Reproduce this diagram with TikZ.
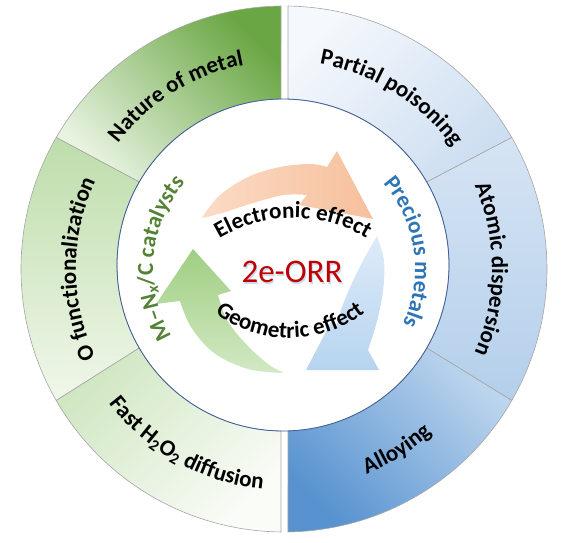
\documentclass[tikz,border=0pt]{standalone}
\usepackage{fontspec}
\setmainfont{Carlito}
\usetikzlibrary{decorations.text,calc}
\definecolor{segline}{HTML}{A6A6A6}
\definecolor{innerblue}{HTML}{3F5E9C}
\definecolor{labgreen}{HTML}{548235}
\definecolor{labblue}{HTML}{2E75B6}
\definecolor{orrred}{HTML}{C00000}
\definecolor{orrglow}{HTML}{C9DCF0}
\newcommand\ringfs{\fontsize{23}{27}\selectfont\bfseries}
\newcommand\labfs{\fontsize{23}{27}\selectfont\bfseries}
\newcommand\efffs{\fontsize{23}{27}\selectfont\bfseries}
\tikzset{
  seg/.style={draw=segline, line width=0.6pt},
  arrowshape/.style={draw=none},
  orrtext/.style={anchor=base, font=\fontsize{33}{36}\selectfont, inner sep=0pt},
}
\begin{document}
\begin{tikzpicture}[x=1pt,y=1pt]
\useasboundingbox (-284,-274) rectangle (286,269);
\coordinate (oc) at (0,0);
\coordinate (ic) at (-1,4);

% ---- green half ----
\path[seg, top color={rgb,255:red,106;green,167;blue,68}, bottom color={rgb,255:red,232;green,243;blue,225}, shading angle=-45]
  (150:263pt) arc[start angle=150, end angle=90.65, radius=263pt]
  -- ($(ic)+(90.7:166pt)$) arc[start angle=90.7, end angle=150, radius=166pt] -- cycle;
\path[seg, top color={rgb,255:red,190;green,221;blue,170}, bottom color={rgb,255:red,240;green,247;blue,235}]
  (210:263pt) arc[start angle=210, end angle=150, radius=263pt]
  -- ($(ic)+(150:166pt)$) arc[start angle=150, end angle=210, radius=166pt] -- cycle;
\path[seg, top color={rgb,255:red,208;green,231;blue,194}, bottom color={rgb,255:red,250;green,252;blue,248}, shading angle=45]
  (269.35:263pt) arc[start angle=269.35, end angle=210, radius=263pt]
  -- ($(ic)+(210:166pt)$) arc[start angle=210, end angle=269.3, radius=166pt] -- cycle;

% ---- blue half ----
\path[seg, top color={rgb,255:red,245;green,248;blue,252}, bottom color={rgb,255:red,205;green,222;blue,241}, shading angle=45]
  (89.13:263pt) arc[start angle=89.13, end angle=30, radius=263pt]
  -- ($(ic)+(30:166pt)$) arc[start angle=30, end angle=88.27, radius=166pt] -- cycle;
\path[seg, top color={rgb,255:red,214;green,228;blue,244}, bottom color={rgb,255:red,180;green,207;blue,235}]
  (30:263pt) arc[start angle=30, end angle=-30, radius=263pt]
  -- ($(ic)+(-30:166pt)$) arc[start angle=-30, end angle=30, radius=166pt] -- cycle;
\path[seg, top color={rgb,255:red,190;green,214;blue,238}, bottom color={rgb,255:red,88;green,147;blue,208}, shading angle=-45]
  (-30:263pt) arc[start angle=-30, end angle=-89.13, radius=263pt]
  -- ($(ic)+(-88.27:166pt)$) arc[start angle=-88.27, end angle=-30, radius=166pt] -- cycle;

\draw[innerblue, line width=0.8pt] (ic) circle[radius=166pt];

% ---- cycle arrows ----
% orange (top)
\coordinate (oT) at (-82,51);
\coordinate (oB1) at (53,118);
\coordinate (oTip) at (89,50);
\coordinate (oB2) at (15,64);
\path[arrowshape, left color={rgb,255:red,251;green,219;blue,197}, right color={rgb,255:red,246;green,192;blue,156}]
  (oT) -- plot[smooth, tension=0.6] coordinates {(oT) (-65,73) (-36,92) (-4,102) (26,105) (43,102)}
  -- (oB1) -- (oTip) -- (oB2)
  -- plot[smooth, tension=0.6] coordinates {(23,74) (0,74) (-31,66) (-62,56) (oT)} -- cycle;
% blue (right)
\coordinate (bT) at (93,33);
\coordinate (bB1) at (95,-101);
\coordinate (bTip) at (22,-101);
\coordinate (bB2) at (47,-53);
\path[arrowshape, top color={rgb,255:red,222;green,235;blue,248}, bottom color={rgb,255:red,182;green,212;blue,239}]
  (bT) -- plot[smooth, tension=0.6] coordinates {(bT) (100,8) (99,-22) (93,-52) (84,-81)}
  -- (bB1) -- (bTip) -- (bB2)
  -- plot[smooth, tension=0.6] coordinates {(53,-56) (58,-38) (68,-14) (80,10) (bT)} -- cycle;
% green (left)
\coordinate (gT) at (0,-104);
\coordinate (gB1) at (-128,-35);
\coordinate (gTip) at (-91,20);
\coordinate (gB2) at (-53,-22);
\path[arrowshape, top color={rgb,255:red,160;green,206;blue,130}, bottom color={rgb,255:red,210;green,233;blue,196}]
  (gT) -- plot[smooth, tension=0.6] coordinates {(gT) (-36,-100) (-70,-84) (-93,-58) (-104,-32)}
  -- (gB1) -- (gTip) -- (gB2)
  -- plot[smooth, tension=0.6] coordinates {(-66,-26) (-57,-51) (-38,-75) (-16,-95) (gT)} -- cycle;

% ---- ring texts ----
\path[decorate, decoration={text along path, text align=center, text={|\ringfs|Nature of metal}}]
  (152:208pt) arc[start angle=152, end angle=92, radius=208pt];
\path[decorate, decoration={text along path, text align=center, text={|\ringfs|Partial poisoning}}]
  (88:208pt) arc[start angle=88, end angle=28, radius=208pt];
\path[decorate, decoration={text along path, text align=center, text={|\ringfs|O functionalization}}]
  (212:208pt) arc[start angle=212, end angle=148, radius=208pt];
\path[decorate, decoration={text along path, text align=center, text={|\ringfs|Atomic dispersion}}]
  (32:208pt) arc[start angle=32, end angle=-32, radius=208pt];
\path[decorate, decoration={text along path, text align=center, text={|\ringfs|Alloying}}]
  (-88:221pt) arc[start angle=-88, end angle=-28, radius=221pt];
\path[decorate, decoration={text along path, text align=center, text={|\ringfs|Fast H{\textsubscript{2}}O{\textsubscript{2}} diffusion}}]
  (209:221pt) arc[start angle=209, end angle=273, radius=221pt];

% ---- inner labels ----
\path[decorate, decoration={text along path, text align=center, text color=labgreen, text={|\labfs|M–N{\textsubscript{\itshape x}}/C catalysts}}]
  (215:131pt) arc[start angle=215, end angle=135, radius=131pt];
\path[decorate, decoration={text along path, text align=center, text color=labblue, text={|\labfs|Precious metals}}]
  (48:131pt) arc[start angle=48, end angle=-32, radius=131pt];

% ---- effects ----
\path[decorate, decoration={text along path, text align=center, text={|\efffs|Electronic effect}}]
  ($(9,-91)+(125:142pt)$) arc[start angle=125, end angle=55, radius=142pt];
\path[decorate, decoration={text along path, text align=center, text={|\efffs|Geometric effect}}]
  ($(6,55)+(225:124pt)$) arc[start angle=225, end angle=315, radius=124pt];

\node[orrtext, text=orrglow] (orrglow) at (9.2,-15.2) {2e-ORR};
\node[orrtext, text=orrred] (orr) at (8,-14) {2e-ORR};
\end{tikzpicture}
\end{document}
